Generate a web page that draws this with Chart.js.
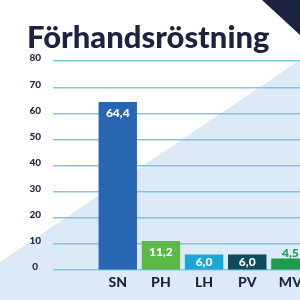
<!DOCTYPE html>
<html>
<head>
<meta charset="utf-8">
<script src="https://cdn.jsdelivr.net/npm/chart.js@4/dist/chart.umd.min.js"></script>
<style>
  html, body { margin: 0; padding: 0; background: #ffffff; }
  #wrap { width: 300px; height: 300px; overflow: hidden; position: relative; }
  canvas { display: block; }
</style>
</head>
<body>
<div id="wrap">
  <canvas id="chart" width="316" height="300"></canvas>
</div>
<script>
// ================= DATA =================
const categories = ["SN", "PH", "LH", "PV", "MV"];
const votes = [64.4, 11.2, 6.0, 6.0, 4.5];
const barColors = ["#2866b1", "#5cb847", "#1aa7d8", "#0b4b5b", "#1f9b4c"];
const yTicks = [0, 10, 20, 30, 40, 50, 60, 70, 80];

const NAVY = "#1b2340";

// ================= BACKGROUND =================
const backgroundPlugin = {
    id: "background",
    beforeDraw(chart) {
        const ctx = chart.ctx;
        const w = chart.width, h = chart.height;
        ctx.save();
        ctx.fillStyle = "#ffffff";
        ctx.fillRect(0, 0, w, h);

        // light blue diagonal band
        ctx.fillStyle = "#dceaf8";
        ctx.beginPath();
        ctx.moveTo(0, 262);
        ctx.lineTo(w, 262 - w * (202 / 300));
        ctx.lineTo(w, h);
        ctx.lineTo(0, h);
        ctx.closePath();
        ctx.fill();

        // navy corner
        ctx.fillStyle = NAVY;
        ctx.beginPath();
        ctx.moveTo(262, 0);
        ctx.lineTo(w, 0);
        ctx.lineTo(w, (w - 262) * (35 / 38));
        ctx.closePath();
        ctx.fill();
        ctx.restore();
    }
};

// ================= VALUE LABELS =================
const valueLabels = {
    id: "valueLabels",
    afterDatasetsDraw(chart) {
        const ctx = chart.ctx;
        const meta = chart.getDatasetMeta(0);
        ctx.save();
        ctx.font = "900 12px Lato";
        ctx.textAlign = "center";
        meta.data.forEach((bar, i) => {
            const v = chart.data.datasets[0].data[i];
            if (v === null) return;
            const text = v.toFixed(1).replace(".", ",");
            const height = bar.base - bar.y;
            if (height >= 14) {
                ctx.fillStyle = "#ffffff";
                ctx.textBaseline = "middle";
                ctx.fillText(text, bar.x, bar.y + Math.min(11, height / 2));
            } else {
                ctx.fillStyle = chart.data.datasets[0].backgroundColor[i];
                ctx.textBaseline = "alphabetic";
                ctx.fillText(text, bar.x, bar.y - 1);
            }
        });
        ctx.restore();
    }
};

// ================= CHART =================
// a blank first slot keeps the empty space left of SN
new Chart(document.getElementById("chart"), {
    type: "bar",
    data: {
        labels: [""].concat(categories),
        datasets: [{
            data: [null].concat(votes),
            backgroundColor: [null].concat(barColors),
            barPercentage: 0.89,
            categoryPercentage: 1
        }]
    },
    options: {
        responsive: false,
        animation: false,
        layout: { padding: { left: 27, right: 4, top: 0, bottom: 5 } },
        scales: {
            x: {
                grid: { display: false, drawTicks: false },
                border: { display: false },
                ticks: {
                    color: NAVY,
                    padding: 4,
                    font: { family: "Lato", weight: 900, size: 14 }
                }
            },
            y: {
                min: 0,
                max: 80,
                afterBuildTicks: axis => {
                    axis.ticks = yTicks.map(v => ({ value: v }));
                },
                afterFit: axis => { axis.width = 26; },
                grid: { color: "#7fc7df", lineWidth: 1.5, drawTicks: false },
                border: { display: false },
                ticks: {
                    color: NAVY,
                    padding: 12,
                    crossAlign: "center",
                    labelOffset: -3,
                    font: { family: "Lato", weight: 900, size: 10 }
                }
            }
        },
        plugins: {
            legend: { display: false },
            tooltip: { enabled: false },
            title: {
                display: true,
                text: "Förhandsröstning",
                align: "start",
                color: NAVY,
                padding: { top: 19, bottom: 5 },
                font: { family: "Lato", weight: 900, size: 31 }
            }
        }
    },
    plugins: [backgroundPlugin, valueLabels]
});
</script>
</body>
</html>
